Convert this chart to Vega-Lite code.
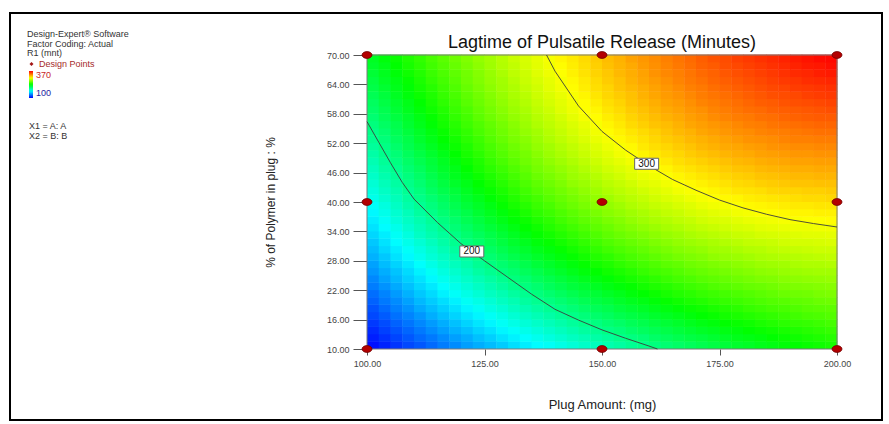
{
  "$schema": "https://vega.github.io/schema/vega-lite/v6.json",
  "width": 872,
  "height": 407,
  "autosize": "none",
  "padding": {"left": 10, "top": 13, "right": 7, "bottom": 4},
  "background": "white",
  "config": {
    "font": "Liberation Sans",
    "view": {"stroke": "#000000", "strokeWidth": 2, "fill": "white"},
    "axis": {"labelFont": "Liberation Sans", "titleFont": "Liberation Sans"},
    "legend": {"labelFont": "Liberation Sans", "titleFont": "Liberation Sans", "padding": 0}
  },
  "title": {
    "text": "Lagtime of Pulsatile Release (Minutes)",
    "fontSize": 18,
    "fontWeight": "normal",
    "color": "#111111",
    "anchor": "middle",
    "frame": "group",
    "offset": 0,
    "baseline": "alphabetic",
    "dx": 156,
    "dy": 53
  },
  "datasets": {
    "cols": [
      {"j":0,"a0":100,"a1":102.6},{"j":1,"a0":102.5,"a1":105.1},{"j":2,"a0":105,"a1":107.6},{"j":3,"a0":107.5,"a1":110.1},
      {"j":4,"a0":110,"a1":112.6},{"j":5,"a0":112.5,"a1":115.1},{"j":6,"a0":115,"a1":117.6},{"j":7,"a0":117.5,"a1":120.1},
      {"j":8,"a0":120,"a1":122.6},{"j":9,"a0":122.5,"a1":125.1},{"j":10,"a0":125,"a1":127.6},{"j":11,"a0":127.5,"a1":130.1},
      {"j":12,"a0":130,"a1":132.6},{"j":13,"a0":132.5,"a1":135.1},{"j":14,"a0":135,"a1":137.6},{"j":15,"a0":137.5,"a1":140.1},
      {"j":16,"a0":140,"a1":142.6},{"j":17,"a0":142.5,"a1":145.1},{"j":18,"a0":145,"a1":147.6},{"j":19,"a0":147.5,"a1":150.1},
      {"j":20,"a0":150,"a1":152.6},{"j":21,"a0":152.5,"a1":155.1},{"j":22,"a0":155,"a1":157.6},{"j":23,"a0":157.5,"a1":160.1},
      {"j":24,"a0":160,"a1":162.6},{"j":25,"a0":162.5,"a1":165.1},{"j":26,"a0":165,"a1":167.6},{"j":27,"a0":167.5,"a1":170.1},
      {"j":28,"a0":170,"a1":172.6},{"j":29,"a0":172.5,"a1":175.1},{"j":30,"a0":175,"a1":177.6},{"j":31,"a0":177.5,"a1":180.1},
      {"j":32,"a0":180,"a1":182.6},{"j":33,"a0":182.5,"a1":185.1},{"j":34,"a0":185,"a1":187.6},{"j":35,"a0":187.5,"a1":190.1},
      {"j":36,"a0":190,"a1":192.6},{"j":37,"a0":192.5,"a1":195.1},{"j":38,"a0":195,"a1":197.6},{"j":39,"a0":197.5,"a1":200.1}
    ],
    "grid": [
      {"b0":10,"b1":11.6,"j":[0,1,2,3,4,5,6,7,8,9,10,11,12,13,14,15,16,17,18,19,20,21,22,23,24,25,26,27,28,29,30,31,32,33,34,35,36,37,38,39],"v":[104,109,114,119,123,128,133,137,142,146,150,154,159,163,167,170,174,178,182,185,189,192,196,199,202,205,208,211,214,217,220,223,225,228,230,233,235,237,239,241]},
      {"b0":11.5,"b1":13.1,"j":[0,1,2,3,4,5,6,7,8,9,10,11,12,13,14,15,16,17,18,19,20,21,22,23,24,25,26,27,28,29,30,31,32,33,34,35,36,37,38,39],"v":[108,113,118,123,128,132,137,142,146,151,155,160,164,168,172,176,180,184,187,191,194,198,201,204,208,211,214,217,219,222,225,228,230,232,235,237,239,241,243,245]},
      {"b0":13,"b1":14.6,"j":[0,1,2,3,4,5,6,7,8,9,10,11,12,13,14,15,16,17,18,19,20,21,22,23,24,25,26,27,28,29,30,31,32,33,34,35,36,37,38,39],"v":[111,117,122,127,132,137,142,147,151,156,160,165,169,173,177,181,185,189,193,196,200,203,207,210,213,216,219,222,225,227,230,232,235,237,239,241,243,245,247,249]},
      {"b0":14.5,"b1":16.1,"j":[0,1,2,3,4,5,6,7,8,9,10,11,12,13,14,15,16,17,18,19,20,21,22,23,24,25,26,27,28,29,30,31,32,33,34,35,36,37,38,39],"v":[115,120,126,131,136,141,146,151,156,161,165,170,174,178,182,186,190,194,198,201,205,208,212,215,218,221,224,227,230,232,235,237,239,242,244,246,248,249,251,253]},
      {"b0":16,"b1":17.6,"j":[0,1,2,3,4,5,6,7,8,9,10,11,12,13,14,15,16,17,18,19,20,21,22,23,24,25,26,27,28,29,30,31,32,33,34,35,36,37,38,39],"v":[119,124,130,135,140,146,151,156,161,165,170,174,179,183,187,191,195,199,203,207,210,214,217,220,223,226,229,232,235,237,240,242,244,246,248,250,252,254,255,257]},
      {"b0":17.5,"b1":19.1,"j":[0,1,2,3,4,5,6,7,8,9,10,11,12,13,14,15,16,17,18,19,20,21,22,23,24,25,26,27,28,29,30,31,32,33,34,35,36,37,38,39],"v":[122,128,134,139,145,150,155,160,165,170,175,179,184,188,192,196,200,204,208,212,215,219,222,225,228,231,234,237,239,242,244,246,249,251,253,254,256,258,259,260]},
      {"b0":19,"b1":20.6,"j":[0,1,2,3,4,5,6,7,8,9,10,11,12,13,14,15,16,17,18,19,20,21,22,23,24,25,26,27,28,29,30,31,32,33,34,35,36,37,38,39],"v":[126,132,137,143,149,154,159,164,170,174,179,184,188,193,197,201,205,209,213,217,220,224,227,230,233,236,239,242,244,247,249,251,253,255,257,258,260,261,263,264]},
      {"b0":20.5,"b1":22.1,"j":[0,1,2,3,4,5,6,7,8,9,10,11,12,13,14,15,16,17,18,19,20,21,22,23,24,25,26,27,28,29,30,31,32,33,34,35,36,37,38,39],"v":[129,135,141,147,153,158,164,169,174,179,184,188,193,197,202,206,210,214,218,221,225,228,232,235,238,241,244,246,249,251,253,255,257,259,261,263,264,265,267,268]},
      {"b0":22,"b1":23.6,"j":[0,1,2,3,4,5,6,7,8,9,10,11,12,13,14,15,16,17,18,19,20,21,22,23,24,25,26,27,28,29,30,31,32,33,34,35,36,37,38,39],"v":[133,139,145,151,157,162,168,173,178,183,188,193,198,202,206,211,215,219,222,226,230,233,236,240,243,245,248,251,253,256,258,260,262,263,265,267,268,269,270,271]},
      {"b0":23.5,"b1":25.1,"j":[0,1,2,3,4,5,6,7,8,9,10,11,12,13,14,15,16,17,18,19,20,21,22,23,24,25,26,27,28,29,30,31,32,33,34,35,36,37,38,39],"v":[136,143,149,155,160,166,172,177,182,187,192,197,202,206,211,215,219,223,227,231,234,238,241,244,247,250,253,255,258,260,262,264,266,268,269,271,272,273,274,275]},
      {"b0":25,"b1":26.6,"j":[0,1,2,3,4,5,6,7,8,9,10,11,12,13,14,15,16,17,18,19,20,21,22,23,24,25,26,27,28,29,30,31,32,33,34,35,36,37,38,39],"v":[140,146,152,158,164,170,176,181,186,192,197,202,206,211,215,220,224,228,232,235,239,242,245,249,252,254,257,260,262,264,266,268,270,272,273,275,276,277,278,278]},
      {"b0":26.5,"b1":28.1,"j":[0,1,2,3,4,5,6,7,8,9,10,11,12,13,14,15,16,17,18,19,20,21,22,23,24,25,26,27,28,29,30,31,32,33,34,35,36,37,38,39],"v":[143,150,156,162,168,174,180,185,190,196,201,206,210,215,220,224,228,232,236,240,243,247,250,253,256,259,261,264,266,268,270,272,274,276,277,278,280,281,281,282]},
      {"b0":28,"b1":29.6,"j":[0,1,2,3,4,5,6,7,8,9,10,11,12,13,14,15,16,17,18,19,20,21,22,23,24,25,26,27,28,29,30,31,32,33,34,35,36,37,38,39],"v":[147,153,160,166,172,178,183,189,194,200,205,210,215,219,224,228,232,236,240,244,247,251,254,257,260,263,266,268,270,273,275,276,278,280,281,282,283,284,285,286]},
      {"b0":29.5,"b1":31.1,"j":[0,1,2,3,4,5,6,7,8,9,10,11,12,13,14,15,16,17,18,19,20,21,22,23,24,25,26,27,28,29,30,31,32,33,34,35,36,37,38,39],"v":[150,157,163,169,175,181,187,193,198,204,209,214,219,223,228,232,236,240,244,248,252,255,258,261,264,267,270,272,274,277,278,280,282,283,285,286,287,288,289,289]},
      {"b0":31,"b1":32.6,"j":[0,1,2,3,4,5,6,7,8,9,10,11,12,13,14,15,16,17,18,19,20,21,22,23,24,25,26,27,28,29,30,31,32,33,34,35,36,37,38,39],"v":[153,160,167,173,179,185,191,197,202,207,213,218,223,227,232,236,240,244,248,252,256,259,262,265,268,271,274,276,278,280,282,284,286,287,288,290,291,291,292,293]},
      {"b0":32.5,"b1":34.1,"j":[0,1,2,3,4,5,6,7,8,9,10,11,12,13,14,15,16,17,18,19,20,21,22,23,24,25,26,27,28,29,30,31,32,33,34,35,36,37,38,39],"v":[157,163,170,176,183,189,194,200,206,211,216,221,226,231,236,240,244,248,252,256,260,263,266,269,272,275,277,280,282,284,286,288,289,291,292,293,294,295,295,296]},
      {"b0":34,"b1":35.6,"j":[0,1,2,3,4,5,6,7,8,9,10,11,12,13,14,15,16,17,18,19,20,21,22,23,24,25,26,27,28,29,30,31,32,33,34,35,36,37,38,39],"v":[160,167,173,180,186,192,198,204,209,215,220,225,230,235,239,244,248,252,256,260,263,267,270,273,276,279,281,284,286,288,290,292,293,295,296,297,298,298,299,299]},
      {"b0":35.5,"b1":37.1,"j":[0,1,2,3,4,5,6,7,8,9,10,11,12,13,14,15,16,17,18,19,20,21,22,23,24,25,26,27,28,29,30,31,32,33,34,35,36,37,38,39],"v":[163,170,177,183,189,195,201,207,213,218,224,229,234,238,243,247,252,256,260,263,267,270,274,277,280,282,285,287,290,292,293,295,297,298,299,300,301,302,302,303]},
      {"b0":37,"b1":38.6,"j":[0,1,2,3,4,5,6,7,8,9,10,11,12,13,14,15,16,17,18,19,20,21,22,23,24,25,26,27,28,29,30,31,32,33,34,35,36,37,38,39],"v":[166,173,180,186,193,199,205,211,216,222,227,232,237,242,247,251,255,259,263,267,271,274,277,280,283,286,288,291,293,295,297,299,300,302,303,304,305,305,306,306]},
      {"b0":38.5,"b1":40.1,"j":[0,1,2,3,4,5,6,7,8,9,10,11,12,13,14,15,16,17,18,19,20,21,22,23,24,25,26,27,28,29,30,31,32,33,34,35,36,37,38,39],"v":[169,176,183,190,196,202,208,214,220,225,230,236,241,245,250,254,259,263,267,271,274,277,281,284,287,289,292,294,297,299,300,302,304,305,306,307,308,308,309,309]},
      {"b0":40,"b1":41.6,"j":[0,1,2,3,4,5,6,7,8,9,10,11,12,13,14,15,16,17,18,19,20,21,22,23,24,25,26,27,28,29,30,31,32,33,34,35,36,37,38,39],"v":[173,180,186,193,199,205,211,217,223,228,234,239,244,249,253,258,262,266,270,274,277,281,284,287,290,293,295,298,300,302,304,305,307,308,309,310,311,312,312,313]},
      {"b0":41.5,"b1":43.1,"j":[0,1,2,3,4,5,6,7,8,9,10,11,12,13,14,15,16,17,18,19,20,21,22,23,24,25,26,27,28,29,30,31,32,33,34,35,36,37,38,39],"v":[176,183,189,196,202,209,215,220,226,232,237,242,247,252,257,261,265,269,273,277,281,284,287,290,293,296,299,301,303,305,307,309,310,311,313,314,314,315,315,316]},
      {"b0":43,"b1":44.6,"j":[0,1,2,3,4,5,6,7,8,9,10,11,12,13,14,15,16,17,18,19,20,21,22,23,24,25,26,27,28,29,30,31,32,33,34,35,36,37,38,39],"v":[179,186,192,199,205,212,218,224,229,235,240,245,250,255,260,264,268,273,276,280,284,287,290,294,296,299,302,304,306,308,310,312,313,315,316,317,318,318,319,319]},
      {"b0":44.5,"b1":46.1,"j":[0,1,2,3,4,5,6,7,8,9,10,11,12,13,14,15,16,17,18,19,20,21,22,23,24,25,26,27,28,29,30,31,32,33,34,35,36,37,38,39],"v":[182,189,195,202,208,215,221,227,232,238,243,248,253,258,263,267,271,276,279,283,287,290,294,297,299,302,305,307,309,311,313,315,316,318,319,320,321,321,322,322]},
      {"b0":46,"b1":47.6,"j":[0,1,2,3,4,5,6,7,8,9,10,11,12,13,14,15,16,17,18,19,20,21,22,23,24,25,26,27,28,29,30,31,32,33,34,35,36,37,38,39],"v":[185,192,198,205,211,218,224,229,235,241,246,251,256,261,266,270,274,278,282,286,290,293,296,300,302,305,308,310,312,314,316,318,319,321,322,323,324,324,325,325]},
      {"b0":47.5,"b1":49.1,"j":[0,1,2,3,4,5,6,7,8,9,10,11,12,13,14,15,16,17,18,19,20,21,22,23,24,25,26,27,28,29,30,31,32,33,34,35,36,37,38,39],"v":[188,195,201,208,214,220,226,232,238,243,249,254,259,264,268,273,277,281,285,289,293,296,299,302,305,308,311,313,315,317,319,321,322,324,325,326,327,327,328,328]},
      {"b0":49,"b1":50.6,"j":[0,1,2,3,4,5,6,7,8,9,10,11,12,13,14,15,16,17,18,19,20,21,22,23,24,25,26,27,28,29,30,31,32,33,34,35,36,37,38,39],"v":[191,198,204,211,217,223,229,235,241,246,252,257,262,266,271,276,280,284,288,292,295,299,302,305,308,311,313,316,318,320,322,324,325,327,328,329,330,330,331,331]},
      {"b0":50.5,"b1":52.1,"j":[0,1,2,3,4,5,6,7,8,9,10,11,12,13,14,15,16,17,18,19,20,21,22,23,24,25,26,27,28,29,30,31,32,33,34,35,36,37,38,39],"v":[194,200,207,214,220,226,232,238,243,249,254,259,264,269,274,278,282,286,290,294,298,301,304,308,311,313,316,318,321,323,325,326,328,329,331,332,333,333,334,334]},
      {"b0":52,"b1":53.6,"j":[0,1,2,3,4,5,6,7,8,9,10,11,12,13,14,15,16,17,18,19,20,21,22,23,24,25,26,27,28,29,30,31,32,33,34,35,36,37,38,39],"v":[197,203,210,216,223,229,235,240,246,251,257,262,267,271,276,281,285,289,293,297,300,304,307,310,313,316,318,321,323,325,327,329,331,332,333,335,336,336,337,337]},
      {"b0":53.5,"b1":55.1,"j":[0,1,2,3,4,5,6,7,8,9,10,11,12,13,14,15,16,17,18,19,20,21,22,23,24,25,26,27,28,29,30,31,32,33,34,35,36,37,38,39],"v":[199,206,213,219,225,231,237,243,248,254,259,264,269,274,278,283,287,291,295,299,303,306,309,312,315,318,321,323,326,328,330,332,333,335,336,337,338,339,340,340]},
      {"b0":55,"b1":56.6,"j":[0,1,2,3,4,5,6,7,8,9,10,11,12,13,14,15,16,17,18,19,20,21,22,23,24,25,26,27,28,29,30,31,32,33,34,35,36,37,38,39],"v":[202,209,215,222,228,234,240,245,251,256,261,266,271,276,281,285,289,293,297,301,305,308,312,315,318,320,323,326,328,330,332,334,336,337,339,340,341,342,343,343]},
      {"b0":56.5,"b1":58.1,"j":[0,1,2,3,4,5,6,7,8,9,10,11,12,13,14,15,16,17,18,19,20,21,22,23,24,25,26,27,28,29,30,31,32,33,34,35,36,37,38,39],"v":[205,212,218,224,230,236,242,248,253,259,264,269,274,278,283,287,291,296,300,303,307,310,314,317,320,323,325,328,330,333,335,337,338,340,341,343,344,345,346,346]},
      {"b0":58,"b1":59.6,"j":[0,1,2,3,4,5,6,7,8,9,10,11,12,13,14,15,16,17,18,19,20,21,22,23,24,25,26,27,28,29,30,31,32,33,34,35,36,37,38,39],"v":[208,214,221,227,233,239,244,250,255,261,266,271,276,280,285,289,294,298,302,305,309,312,316,319,322,325,327,330,332,335,337,339,341,342,344,345,346,347,348,349]},
      {"b0":59.5,"b1":61.1,"j":[0,1,2,3,4,5,6,7,8,9,10,11,12,13,14,15,16,17,18,19,20,21,22,23,24,25,26,27,28,29,30,31,32,33,34,35,36,37,38,39],"v":[210,217,223,229,235,241,247,252,258,263,268,273,278,282,287,291,295,299,303,307,311,314,318,321,324,327,329,332,335,337,339,341,343,345,346,348,349,350,351,352]},
      {"b0":61,"b1":62.6,"j":[0,1,2,3,4,5,6,7,8,9,10,11,12,13,14,15,16,17,18,19,20,21,22,23,24,25,26,27,28,29,30,31,32,33,34,35,36,37,38,39],"v":[213,219,226,232,238,243,249,254,260,265,270,275,280,284,289,293,297,301,305,309,313,316,319,323,326,329,331,334,337,339,341,343,345,347,349,350,351,353,354,355]},
      {"b0":62.5,"b1":64.1,"j":[0,1,2,3,4,5,6,7,8,9,10,11,12,13,14,15,16,17,18,19,20,21,22,23,24,25,26,27,28,29,30,31,32,33,34,35,36,37,38,39],"v":[216,222,228,234,240,245,251,256,262,267,272,277,281,286,290,295,299,303,307,311,314,318,321,324,327,330,333,336,338,341,343,345,347,349,351,352,354,355,356,357]},
      {"b0":64,"b1":65.6,"j":[0,1,2,3,4,5,6,7,8,9,10,11,12,13,14,15,16,17,18,19,20,21,22,23,24,25,26,27,28,29,30,31,32,33,34,35,36,37,38,39],"v":[218,225,230,236,242,248,253,258,264,269,274,278,283,288,292,296,300,304,308,312,316,319,323,326,329,332,335,338,340,343,345,347,349,351,353,355,356,358,359,360]},
      {"b0":65.5,"b1":67.1,"j":[0,1,2,3,4,5,6,7,8,9,10,11,12,13,14,15,16,17,18,19,20,21,22,23,24,25,26,27,28,29,30,31,32,33,34,35,36,37,38,39],"v":[221,227,233,239,244,250,255,260,265,270,275,280,285,289,294,298,302,306,310,314,317,321,324,327,331,334,336,339,342,344,347,349,351,353,355,357,359,360,362,363]},
      {"b0":67,"b1":68.6,"j":[0,1,2,3,4,5,6,7,8,9,10,11,12,13,14,15,16,17,18,19,20,21,22,23,24,25,26,27,28,29,30,31,32,33,34,35,36,37,38,39],"v":[224,229,235,241,246,252,257,262,267,272,277,282,286,291,295,299,303,307,311,315,319,322,325,329,332,335,338,341,344,346,349,351,353,355,357,359,361,363,364,366]},
      {"b0":68.5,"b1":70.1,"j":[0,1,2,3,4,5,6,7,8,9,10,11,12,13,14,15,16,17,18,19,20,21,22,23,24,25,26,27,28,29,30,31,32,33,34,35,36,37,38,39],"v":[226,232,237,243,248,254,259,264,269,274,278,283,288,292,296,300,305,308,312,316,320,323,327,330,333,336,339,342,345,348,350,353,355,357,359,361,363,365,367,368]}
    ],
    "contours": [
      {"level": "200", "x": 100, "y": 56.4},
      {"level": "200", "x": 102.5, "y": 52.2},
      {"level": "200", "x": 105, "y": 48.0},
      {"level": "200", "x": 107.5, "y": 44.0},
      {"level": "200", "x": 110, "y": 40.6},
      {"level": "200", "x": 115, "y": 35.8},
      {"level": "200", "x": 120, "y": 31.5},
      {"level": "200", "x": 125, "y": 28.0},
      {"level": "200", "x": 130, "y": 24.6},
      {"level": "200", "x": 135, "y": 21.2},
      {"level": "200", "x": 140, "y": 18.1},
      {"level": "200", "x": 145, "y": 15.9},
      {"level": "200", "x": 150, "y": 13.9},
      {"level": "200", "x": 155, "y": 12.2},
      {"level": "200", "x": 160, "y": 10.6},
      {"level": "200", "x": 161.8, "y": 10},
      {"level": "300", "x": 138.2, "y": 70},
      {"level": "300", "x": 140, "y": 66.7},
      {"level": "300", "x": 145, "y": 59.6},
      {"level": "300", "x": 150, "y": 54.4},
      {"level": "300", "x": 155, "y": 50.6},
      {"level": "300", "x": 160, "y": 47.4},
      {"level": "300", "x": 165, "y": 44.6},
      {"level": "300", "x": 170, "y": 42.4},
      {"level": "300", "x": 175, "y": 40.4},
      {"level": "300", "x": 180, "y": 38.8},
      {"level": "300", "x": 185, "y": 37.5},
      {"level": "300", "x": 190, "y": 36.4},
      {"level": "300", "x": 195, "y": 35.6},
      {"level": "300", "x": 200, "y": 34.9}
    ],
    "labels": [
      {"x": 122.3, "y": 29.9, "label": "200"},
      {"x": 159.5, "y": 47.8, "label": "300"}
    ],
    "points": [
      {"x": 100, "y": 10, "kind": "Design Points"},
      {"x": 100, "y": 40, "kind": "Design Points"},
      {"x": 100, "y": 70, "kind": "Design Points"},
      {"x": 150, "y": 10, "kind": "Design Points"},
      {"x": 150, "y": 40, "kind": "Design Points"},
      {"x": 150, "y": 70, "kind": "Design Points"},
      {"x": 200, "y": 10, "kind": "Design Points"},
      {"x": 200, "y": 40, "kind": "Design Points"},
      {"x": 200, "y": 70, "kind": "Design Points"}
    ]
  },
  "layer": [
    {
      "data": {"name": "grid"},
      "transform": [
        {"flatten": ["j", "v"]},
        {"lookup": "j", "from": {"data": {"name": "cols"}, "key": "j", "fields": ["a0", "a1"]}}
      ],
      "mark": {"type": "rect", "strokeWidth": 0},
      "encoding": {
        "x": {
          "field": "a0", "type": "quantitative", "title": "Plug Amount: (mg)",
          "scale": {"domain": [100, 200], "range": [357, 827], "zero": false, "nice": false},
          "axis": {
            "orient": "bottom", "offset": -71, "values": [100, 125, 150, 175, 200], "format": ".2f",
            "labelFlush": false, "domain": false, "grid": false, "tickSize": 6, "tickColor": "#555555", "tickWidth": 1,
            "labelFontSize": 9, "labelColor": "#444444", "labelPadding": 4,
            "titleFontSize": 13, "titleFontWeight": "normal", "titleColor": "#222222", "titlePadding": 30
          }
        },
        "x2": {"field": "a1"},
        "y": {
          "field": "b0", "type": "quantitative", "title": "% of Polymer in plug : %",
          "scale": {"domain": [10, 70], "range": [336, 42], "zero": false, "nice": false},
          "axis": {
            "orient": "left", "offset": -357, "values": [10, 16, 22, 28, 34, 40, 46, 52, 58, 64, 70], "format": ".2f",
            "domain": false, "grid": false, "tickSize": 14, "tickColor": "#555555", "tickWidth": 1,
            "labelFontSize": 9, "labelColor": "#444444", "labelPadding": 4,
            "titleFontSize": 12, "titleFontWeight": "normal", "titleColor": "#222222", "titlePadding": 49
          }
        },
        "y2": {"field": "b1"},
        "fill": {
          "field": "v", "type": "quantitative",
          "scale": {"domain": [100, 167.5, 235, 302.5, 370], "range": ["#0000ff", "#00ffff", "#00ff00", "#ffff00", "#ff0000"], "interpolate": "rgb"},
          "legend": {
            "type": "gradient",
            "orient": "none", "legendX": 19, "legendY": 58, "direction": "vertical",
            "gradientLength": 27, "gradientThickness": 4, "gradientStrokeWidth": 0,
            "values": [100, 370],
            "title": ["X1 = A: A", "X2 = B: B"], "titleOrient": "bottom", "titleAnchor": "start", "titlePadding": 24,
            "titleFontSize": 9, "titleFontWeight": "normal", "titleColor": "#333333", "titleLineHeight": 10,
            "labelFontSize": 9, "labelOffset": 3,
            "encode": {"labels": {"update": {"fill": {"signal": "datum.value > 200 ? '#c81e1e' : '#1c1ca0'"}}}}
          }
        }
      }
    },
    {
      "data": {"values": [{}]},
      "mark": {"type": "rect", "fill": "transparent", "stroke": "#7a7a7a", "strokeWidth": 1},
      "encoding": {
        "x": {"datum": 100, "type": "quantitative"},
        "x2": {"datum": 200},
        "y": {"datum": 10, "type": "quantitative"},
        "y2": {"datum": 70}
      }
    },
    {
      "data": {"name": "contours"},
      "mark": {"type": "line", "color": "#3c3c3c", "strokeWidth": 0.9},
      "encoding": {
        "x": {"field": "x", "type": "quantitative", "title": "Plug Amount: (mg)"},
        "y": {"field": "y", "type": "quantitative", "title": "% of Polymer in plug : %"},
        "detail": {"field": "level", "type": "nominal"}
      }
    },
    {
      "data": {"name": "labels"},
      "mark": {"type": "point", "shape": "M-1,-0.46H1V0.46H-1Z", "size": 576, "filled": true, "fill": "white", "stroke": "#666666", "strokeWidth": 1, "opacity": 1},
      "encoding": {
        "x": {"field": "x", "type": "quantitative", "title": "Plug Amount: (mg)"},
        "y": {"field": "y", "type": "quantitative", "title": "% of Polymer in plug : %"}
      }
    },
    {
      "data": {"name": "labels"},
      "mark": {"type": "text", "fontSize": 10, "font": "Liberation Sans", "color": "#111111", "align": "center", "baseline": "middle"},
      "encoding": {
        "x": {"field": "x", "type": "quantitative", "title": "Plug Amount: (mg)"},
        "y": {"field": "y", "type": "quantitative", "title": "% of Polymer in plug : %"},
        "text": {"field": "label"}
      }
    },
    {
      "data": {"name": "points"},
      "mark": {"type": "point", "filled": true, "fill": "#a31515", "size": 0, "opacity": 1},
      "encoding": {
        "x": {"field": "x", "type": "quantitative", "title": "Plug Amount: (mg)"},
        "y": {"field": "y", "type": "quantitative", "title": "% of Polymer in plug : %"},
        "shape": {
          "field": "kind", "type": "nominal",
          "scale": {"range": ["diamond"]},
          "legend": {
            "orient": "none", "legendX": 17, "legendY": 17,
            "title": ["Design-Expert® Software", "Factor Coding: Actual", "R1 (mnt)"],
            "titleFontSize": 9, "titleFontWeight": "normal", "titleColor": "#333333", "titleLineHeight": 9.7, "titlePadding": 1,
            "labelFontSize": 9, "labelColor": "#a52a2a", "labelOffset": 3,
            "symbolSize": 16, "symbolFillColor": "#a31515", "symbolStrokeWidth": 0
          }
        }
      }
    },
    {
      "data": {"name": "points"},
      "mark": {"type": "point", "shape": "M-1,0A1,0.68 0 1,0 1,0A1,0.68 0 1,0 -1,0Z", "filled": true, "fill": "#b30000", "stroke": "#6e0000", "strokeWidth": 0.8, "size": 100, "opacity": 1},
      "encoding": {
        "x": {"field": "x", "type": "quantitative", "title": "Plug Amount: (mg)"},
        "y": {"field": "y", "type": "quantitative", "title": "% of Polymer in plug : %"}
      }
    }
  ]
}
